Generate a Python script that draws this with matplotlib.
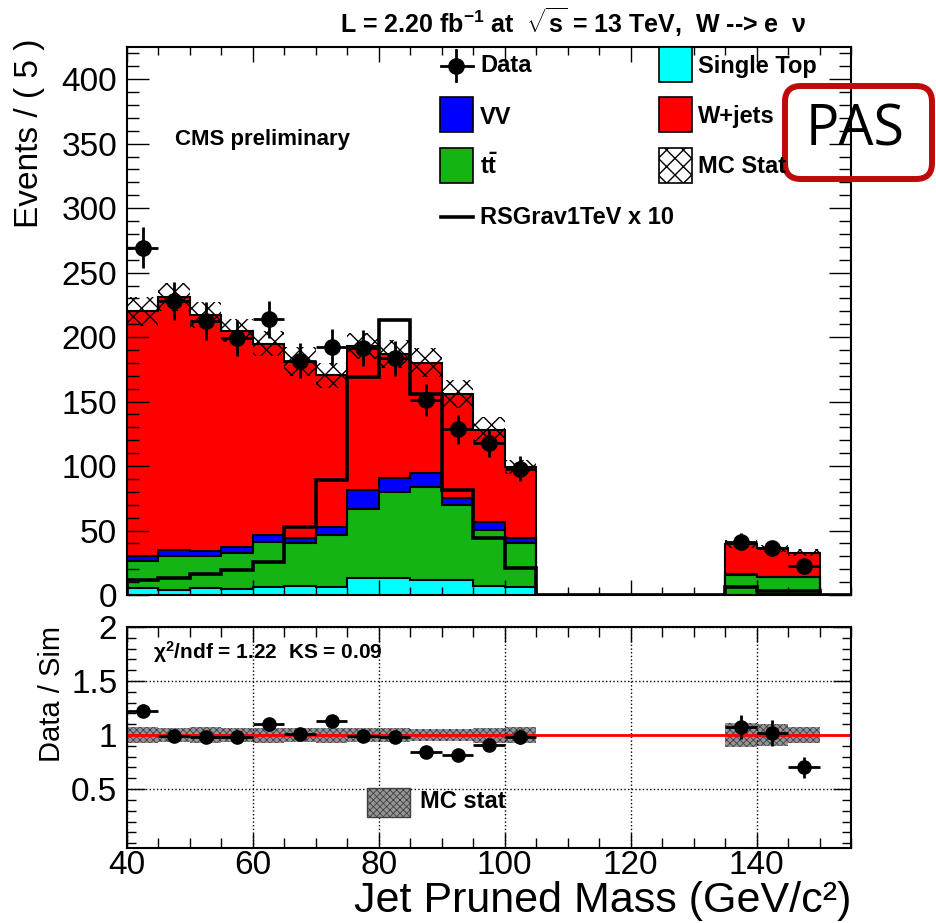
# plot.py: jet pruned mass, stacked MC vs data, with a ratio panel
import numpy as np
import matplotlib
matplotlib.use('Agg')
import matplotlib.pyplot as plt
from matplotlib.patches import Rectangle, FancyBboxPatch
from matplotlib.lines import Line2D
from matplotlib.ticker import MultipleLocator

plt.rcParams['font.family'] = ['Liberation Sans', 'DejaVu Sans']
plt.rcParams['mathtext.fontset'] = 'custom'
plt.rcParams['mathtext.rm'] = 'Liberation Sans:bold'
plt.rcParams['mathtext.bf'] = 'Liberation Sans:bold'
plt.rcParams['mathtext.it'] = 'Liberation Sans:italic:bold'
plt.rcParams['hatch.color'] = 'black'

# bins (width 5 GeV), only the filled ones are listed
edges = np.arange(40, 156, 5)
centers = np.array([42.5, 47.5, 52.5, 57.5, 62.5, 67.5, 72.5, 77.5, 82.5,
                    87.5, 92.5, 97.5, 102.5, 137.5, 142.5, 147.5])

# MC components (events per bin)
single_top = [5.7, 4.0, 5.4, 4.6, 6.5, 7.0, 6.5, 13.0, 13.0, 12.0, 11.6, 7.0, 6.5, 0.0, 1.0, 1.0]
ttbar = [20.7, 26.0, 24.6, 27.9, 34.5, 33.5, 40.0, 54.0, 67.0, 71.5, 58.2, 43.4, 34.0, 15.5, 12.7, 12.7]
vv = [3.6, 5.0, 4.0, 4.5, 5.5, 3.9, 6.5, 14.4, 10.4, 10.8, 5.2, 6.4, 3.5, 0.5, 0.3, 0.3]
wjets = [190.0, 196.0, 183.0, 168.0, 148.5, 136.6, 117.5, 111.6, 96.6, 85.7, 81.0, 71.2, 55.5, 23.3, 22.2, 18.8]
mc_stat = [11.0, 11.0, 10.0, 9.0, 10.0, 11.0, 9.7, 10.3, 10.7, 11.2, 10.7, 10.2, 5.5, 3.1, 2.8, 2.5]
rs_grav = [11.6, 13.4, 16.5, 19.4, 25.6, 52.5, 89.0, 169.0, 213.0, 155.8, 81.4, 44.0, 20.7, 6.4, 3.0, 3.0]

# data
data = [269.5, 228.0, 212.6, 199.5, 213.7, 181.6, 192.5, 191.7, 183.5, 151.0, 128.4, 118.0, 98.0, 41.3, 36.2, 22.5]
data_err = [16.0, 15.0, 14.6, 14.0, 14.6, 13.5, 13.9, 13.8, 13.5, 12.3, 11.3, 10.9, 9.9, 6.4, 6.0, 4.7]

# ratio panel
ratio = [1.225, 0.99, 0.98, 0.98, 1.10, 1.01, 1.13, 0.99, 0.985, 0.84, 0.82, 0.91, 0.985, 1.077, 1.015, 0.70]
ratio_err = [0.06, 0.05, 0.05, 0.05, 0.05, 0.05, 0.05, 0.05, 0.05, 0.05, 0.05, 0.045, 0.07, 0.11, 0.12, 0.10]
ratio_band = [0.077, 0.065, 0.075, 0.065, 0.07, 0.065, 0.07, 0.065, 0.067, 0.055, 0.055, 0.07, 0.075, 0.11, 0.105, 0.077]


def full(vals):
    # put per-bin values on the full binning (empty bins = 0)
    out = np.zeros(len(edges) - 1)
    out[((centers - 40) / 5).astype(int)] = vals
    return out


W, H = 936, 923


def fx(px):
    return px / W


def fy(py):
    return 1 - py / H


fig = plt.figure(figsize=(9.36, 9.23), dpi=100)
ax = fig.add_axes([fx(127), fy(595), fx(851) - fx(127), fy(47) - fy(595)])
ax2 = fig.add_axes([fx(127), fy(848), fx(851) - fx(127), fy(627) - fy(848)])

# stacked histograms
layers = [single_top, ttbar, vv, wjets]
colors = ['#00ffff', '#14b414', '#0000ff', '#ff0000']
bottom = np.zeros(len(edges) - 1)
tops = []
for vals, col in zip(layers, colors):
    top = bottom + full(vals)
    ax.stairs(top, edges, baseline=bottom, fill=True, color=col, lw=0, zorder=1)
    tops.append(top)
    bottom = top
for top in tops:
    ax.stairs(top, edges, color='black', lw=1.5, zorder=2)
total = tops[-1]
err = full(mc_stat)
ax.stairs(total + err, edges, baseline=total - err, fill=True, facecolor='none',
          edgecolor='black', hatch='xx', lw=0, zorder=3)

# signal
ax.stairs(full(rs_grav), edges, color='black', lw=2.6, zorder=4)

# data
ax.errorbar(centers, data, yerr=data_err, xerr=2.5, fmt='o', color='black',
            ms=11, elinewidth=2, capsize=0, zorder=5)

ax.set_xlim(40, 155)
ax.set_ylim(0, 425)
ax.yaxis.set_major_locator(MultipleLocator(50))
ax.yaxis.set_minor_locator(MultipleLocator(10))
ax.xaxis.set_major_locator(MultipleLocator(20))
ax.xaxis.set_minor_locator(MultipleLocator(5))
ax.tick_params(axis='both', which='both', direction='in', top=True, right=True, width=1)
ax.tick_params(axis='y', which='major', length=16)
ax.tick_params(axis='y', which='minor', length=8.5)
ax.tick_params(axis='x', which='major', length=11)
ax.tick_params(axis='x', which='minor', length=5.5)
ax.tick_params(labelbottom=False, labelsize=24, pad=7)
for s in ax.spines.values():
    s.set_linewidth(1.5)

# ratio panel
with plt.rc_context({'hatch.linewidth': 0.6}):
    ax2.bar(centers, 2 * np.array(ratio_band), bottom=1 - np.array(ratio_band), width=5,
            facecolor='#959595', edgecolor='#404040', hatch='xxxxx', lw=0, zorder=1)
ax2.axhline(1.0, color='red', lw=2, zorder=2)
ax2.errorbar(centers, ratio, yerr=ratio_err, xerr=2.5, fmt='o', color='black',
             ms=9.5, elinewidth=2, capsize=0, zorder=3)
ax2.set_xlim(40, 155)
ax2.set_ylim(-0.045, 2.0)
ax2.set_yticks([0.5, 1.0, 1.5, 2.0])
ax2.set_yticklabels(['0.5', '1', '1.5', '2'])
ax2.yaxis.set_minor_locator(MultipleLocator(0.1))
ax2.xaxis.set_major_locator(MultipleLocator(20))
ax2.xaxis.set_minor_locator(MultipleLocator(5))
ax2.grid(True, which='major', linestyle=':', color='black', lw=1)
ax2.tick_params(axis='both', which='both', direction='in', top=True, right=True, width=1)
ax2.tick_params(axis='y', which='major', length=13)
ax2.tick_params(axis='y', which='minor', length=6.5)
ax2.tick_params(axis='x', which='major', length=11)
ax2.tick_params(axis='x', which='minor', length=7)
ax2.tick_params(labelsize=24)
ax2.tick_params(axis='y', pad=7)
ax2.tick_params(axis='x', pad=1.5)
for s in ax2.spines.values():
    s.set_linewidth(1.5)

# labels
fig.text(fx(30), fy(38), 'Events / ( 5 )', rotation=90, ha='center', va='top', fontsize=24)
fig.text(fx(52), fy(626), 'Data / Sim', rotation=90, ha='center', va='top', fontsize=21)
fig.text(fx(851), fy(912), 'Jet Pruned Mass (GeV/c²)', ha='right', va='baseline', fontsize=31)
fig.text(fx(806), fy(22), r'L = 2.20 fb$^{-1}$ at  $\sqrt{\mathrm{s}}$ = 13 TeV,  W --> e  ν',
         ha='right', va='center', fontsize=18, fontweight='bold')
fig.text(fx(175), fy(140), 'CMS preliminary', ha='left', va='center', fontsize=16, fontweight='bold')
fig.text(fx(153), fy(652), r'χ$^{2}$/ndf = 1.22  KS = 0.09', ha='left', va='center',
         fontsize=15, fontweight='bold')

# legend (drawn by hand, ROOT style)
lw_box = 1.2
fig.lines.append(Line2D([fx(441), fx(473)], [fy(66), fy(66)], color='black', lw=2, transform=fig.transFigure))
fig.lines.append(Line2D([fx(456), fx(456)], [fy(50), fy(81)], color='black', lw=2, transform=fig.transFigure))
fig.lines.append(Line2D([fx(456)], [fy(66)], marker='o', ms=11, color='black', transform=fig.transFigure))
fig.lines.append(Line2D([fx(441), fx(473)], [fy(217), fy(217)], color='black', lw=2.6, transform=fig.transFigure))
boxes = [(440, 97, '#0000ff', None), (440, 148, '#14b414', None),
         (659, 47, '#00ffff', None), (659, 97, '#ff0000', None), (659, 148, 'white', 'xx')]
for bx, by, col, hat in boxes:
    fig.patches.append(Rectangle((fx(bx), fy(by + 35)), 33 / W, 35 / H, facecolor=col,
                                 edgecolor='black', lw=lw_box, hatch=hat, transform=fig.transFigure))
leg_texts = [(480, 66, 'Data'), (480, 117, 'VV'), (480, 166, r'$\mathrm{t\bar{t}}$'),
             (480, 217, 'RSGrav1TeV x 10'), (698, 66, 'Single Top'), (698, 117, 'W+jets'),
             (698, 166, 'MC Stat')]
for tx, ty, txt in leg_texts:
    fig.text(fx(tx), fy(ty), txt, ha='left', va='center', fontsize=17, fontweight='bold')

# ratio legend
with plt.rc_context({'hatch.linewidth': 0.6}):
    fig.patches.append(Rectangle((fx(367), fy(817)), 43 / W, 29 / H, facecolor='#959595',
                                 edgecolor='#404040', hatch='xxxxx', lw=1, transform=fig.transFigure))
fig.text(fx(420), fy(802), 'MC stat', ha='left', va='center', fontsize=17, fontweight='bold')

# PAS stamp
fig.patches.append(FancyBboxPatch((fx(785), fy(179)), 147 / W, 93 / H,
                                  boxstyle='round,pad=0,rounding_size=0.017',
                                  facecolor='none', edgecolor='#bf0a0a', lw=4.3,
                                  transform=fig.transFigure))
fig.text(fx(855), fy(131), 'PAS', ha='center', va='center', fontsize=40,
         family=['Open Sans', 'DejaVu Sans'])

fig.savefig('out.png', dpi=100)
